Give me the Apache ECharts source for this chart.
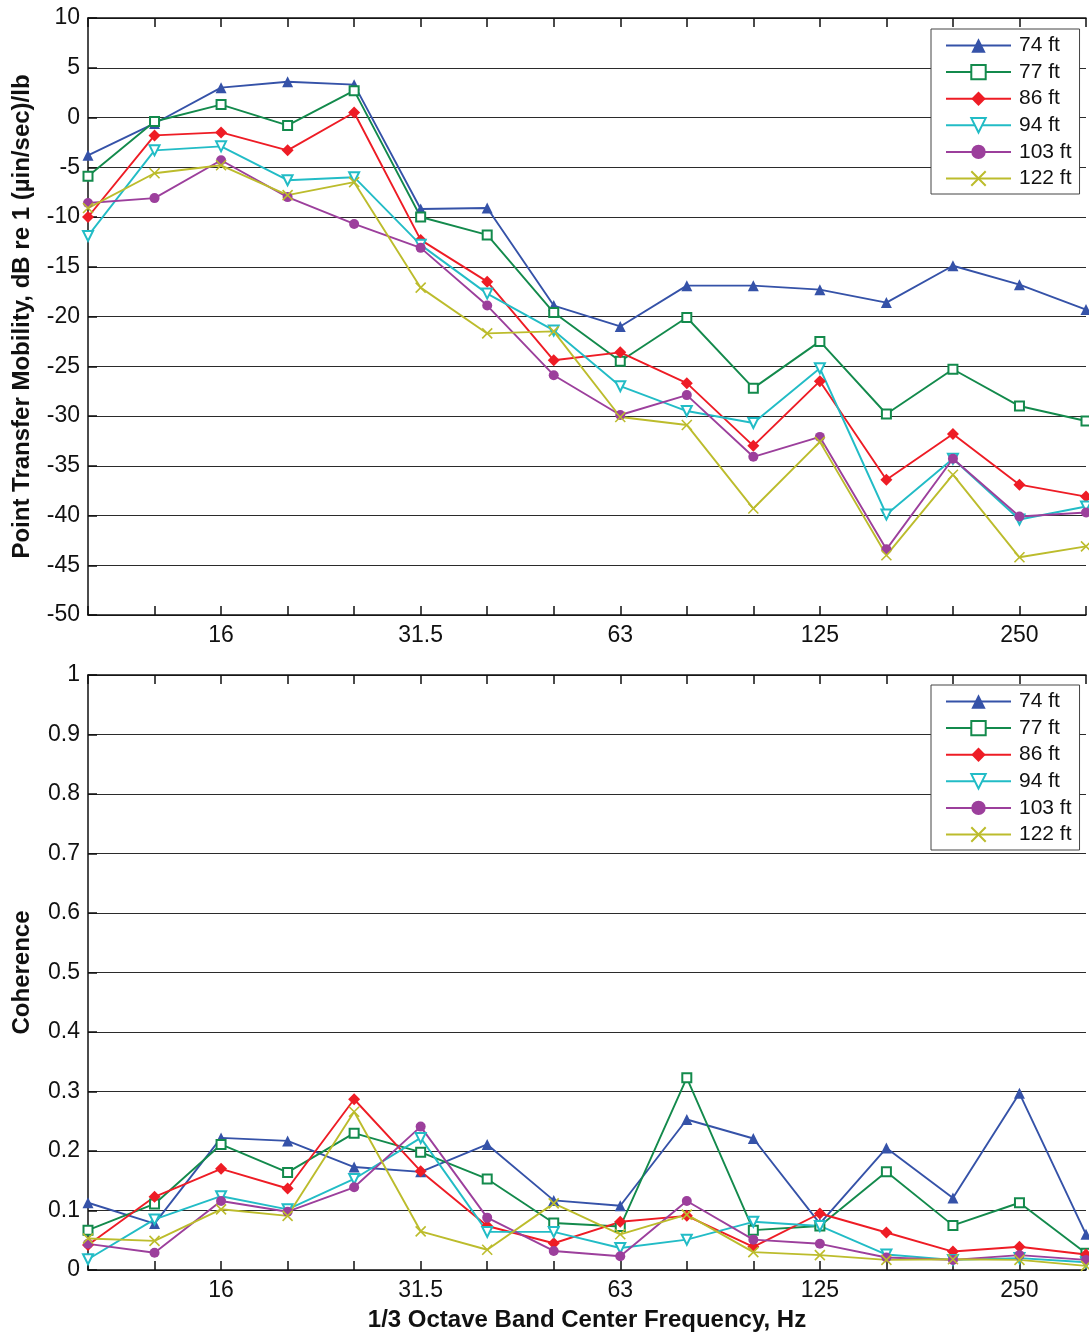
<!DOCTYPE html>
<html>
<head>
<meta charset="utf-8">
<script src="https://cdn.jsdelivr.net/npm/echarts@6/dist/echarts.min.js"></script>
<style>
html,body{margin:0;padding:0;background:#fff;}
#chart{width:1089px;height:1336px;}
</style>
</head>
<body>
<div id="chart"></div>
<script>
// 1/3 octave band centre frequencies (Hz)
const freqs = ['10','12.5','16','20','25','31.5','40','50','63','80','100','125','160','200','250','315'];
const tickLabels = ['16','31.5','63','125','250'];
const seriesNames = ['74 ft','77 ft','86 ft','94 ft','103 ft','122 ft'];

// Point transfer mobility, dB re 1 (µin/sec)/lb
const mob74  = [-3.8,-0.6,3.0,3.6,3.3,-9.2,-9.1,-18.9,-21.0,-16.9,-16.9,-17.3,-18.6,-14.9,-16.8,-19.3];
const mob77  = [-5.9,-0.4,1.3,-0.8,2.7,-10.0,-11.8,-19.6,-24.5,-20.1,-27.2,-22.5,-29.8,-25.3,-29.0,-30.5];
const mob86  = [-10.0,-1.8,-1.5,-3.3,0.5,-12.3,-16.5,-24.4,-23.6,-26.7,-33.0,-26.5,-36.4,-31.8,-36.9,-38.1];
const mob94  = [-11.9,-3.3,-2.9,-6.3,-6.0,-12.8,-17.7,-21.4,-27.0,-29.5,-30.7,-25.2,-39.9,-34.3,-40.4,-39.1];
const mob103 = [-8.6,-8.1,-4.3,-8.0,-10.7,-13.1,-18.9,-25.9,-29.9,-27.9,-34.1,-32.1,-43.4,-34.3,-40.1,-39.7];
const mob122 = [-9.1,-5.6,-4.8,-7.8,-6.5,-17.1,-21.7,-21.5,-30.1,-30.9,-39.3,-32.6,-44.0,-35.9,-44.2,-43.1];

// Coherence
const coh74  = [0.113,0.078,0.222,0.217,0.173,0.165,0.211,0.117,0.108,0.253,0.221,0.078,0.205,0.121,0.297,0.060];
const coh77  = [0.067,0.111,0.211,0.164,0.230,0.198,0.153,0.079,0.073,0.323,0.067,0.074,0.165,0.075,0.113,0.028];
const coh86  = [0.042,0.123,0.170,0.137,0.287,0.166,0.074,0.045,0.081,0.091,0.039,0.095,0.063,0.031,0.039,0.026];
const coh94  = [0.018,0.085,0.124,0.102,0.153,0.222,0.064,0.064,0.037,0.051,0.081,0.074,0.026,0.017,0.020,0.013];
const coh103 = [0.044,0.029,0.116,0.098,0.139,0.241,0.088,0.032,0.023,0.116,0.051,0.044,0.021,0.017,0.025,0.017];
const coh122 = [0.053,0.049,0.102,0.091,0.266,0.065,0.034,0.112,0.060,0.093,0.030,0.025,0.017,0.018,0.017,0.007];

const mobData = [mob74, mob77, mob86, mob94, mob103, mob122];
const cohData = [coh74, coh77, coh86, coh94, coh103, coh122];

const colors = ['#3552a8','#138a4c','#ee1c25','#22bcc6','#9c3f9c','#bcbc2c'];
const symbols = [
  {symbol:'triangle', size:11, rotate:0},
  {symbol:'emptyRect', size:9, rotate:0},
  {symbol:'diamond', size:12, rotate:0},
  {symbol:'emptyTriangle', size:10, rotate:180},
  {symbol:'circle', size:10, rotate:0},
  {symbol:'path://M0,0L10,10M10,0L0,10', size:10, rotate:0}
];

const FONT = '"Liberation Sans", Arial, Helvetica, sans-serif';
const TXT = '#111';

function makeSeries(dataArr, xi, yi) {
  return dataArr.map((d, k) => {
    const s = symbols[k];
    const isX = k === 5;
    return {
      name: seriesNames[k],
      type: 'line',
      xAxisIndex: xi,
      yAxisIndex: yi,
      data: d,
      symbol: s.symbol,
      symbolSize: s.size,
      symbolRotate: s.rotate,
      showAllSymbol: true,
      animation: false,
      lineStyle: {color: colors[k], width: 1.9},
      itemStyle: isX ? {color: colors[k], borderColor: colors[k], borderWidth: 1.6}
                     : {color: colors[k], borderColor: colors[k], borderWidth: (k===1||k===3)?1.6:0},
      emphasis: {disabled: true}
    };
  });
}

function xAxisBottom(gi) {
  return {
    type: 'category', gridIndex: gi, data: freqs, boundaryGap: false, position: 'bottom',
    axisLine: {show: true, onZero: false, lineStyle: {color: '#111', width: 1.5}},
    axisTick: {show: true, inside: true, length: 9, interval: 0, lineStyle: {color: '#111', width: 1.5}},
    axisLabel: {interval: 0, margin: 9, fontSize: 23, fontFamily: FONT, color: TXT,
      formatter: v => tickLabels.includes(v) ? v : ''},
    splitLine: {show: false}
  };
}
function xAxisTop(gi) {
  return {
    type: 'category', gridIndex: gi, data: freqs, boundaryGap: false, position: 'top',
    axisLine: {show: true, onZero: false, lineStyle: {color: '#111', width: 1.5}},
    axisTick: {show: true, inside: true, length: 9, interval: 0, lineStyle: {color: '#111', width: 1.5}},
    axisLabel: {show: false},
    splitLine: {show: false}
  };
}

function legendAt(top) {
  return {
    data: seriesNames,
    orient: 'vertical',
    left: 931, top: top,
    itemWidth: 65, itemHeight: 18, itemGap: 5.6,
    padding: [6, 8, 5, 14],
    backgroundColor: '#fff',
    borderColor: '#444', borderWidth: 1, borderRadius: 0,
    selectedMode: false,
    textStyle: {fontSize: 21, fontFamily: FONT, color: TXT, padding: [0,0,0,3]}
  };
}

const titleStyle = {fontSize: 24, fontWeight: 'bold', fontFamily: FONT, color: TXT};

const option = {
  animation: false,
  backgroundColor: '#fff',
  grid: [
    {left: 88, right: 0, top: 18, height: 597},
    {left: 88, right: 0, top: 675, height: 595}
  ],
  legend: [legendAt(29), legendAt(685)],
  xAxis: [
    xAxisBottom(0), xAxisTop(0),
    Object.assign(xAxisBottom(1), {
      name: '1/3 Octave Band Center Frequency, Hz', nameLocation: 'middle', nameGap: 38,
      nameTextStyle: titleStyle
    }),
    xAxisTop(1)
  ],
  yAxis: [
    {
      type: 'value', gridIndex: 0, min: -50, max: 10, interval: 5,
      name: 'Point Transfer Mobility, dB re 1 (µin/sec)/lb', nameLocation: 'middle', nameGap: 54,
      nameTextStyle: titleStyle,
      axisLine: {show: true, onZero: false, lineStyle: {color: '#111', width: 1.5}},
      axisTick: {show: true, inside: true, length: 9, lineStyle: {color: '#111', width: 1.5}},
      axisLabel: {margin: 8, fontSize: 23, fontFamily: FONT, color: TXT},
      splitLine: {show: true, lineStyle: {color: '#2b2b2b', width: 1.2}}
    },
    {
      type: 'value', gridIndex: 1, min: 0, max: 1, interval: 0.1,
      name: 'Coherence', nameLocation: 'middle', nameGap: 54,
      nameTextStyle: titleStyle,
      axisLine: {show: true, onZero: false, lineStyle: {color: '#111', width: 1.5}},
      axisTick: {show: true, inside: true, length: 9, lineStyle: {color: '#111', width: 1.5}},
      axisLabel: {margin: 8, fontSize: 23, fontFamily: FONT, color: TXT,
        formatter: v => (v === 0 || v === 1) ? String(v) : v.toFixed(1)},
      splitLine: {show: true, lineStyle: {color: '#2b2b2b', width: 1.2}}
    }
  ],
  series: [].concat(makeSeries(mobData, 0, 0), makeSeries(cohData, 2, 1))
};

const chart = echarts.init(document.getElementById('chart'), null, {renderer: 'canvas'});
chart.setOption(option);
</script>
</body>
</html>
